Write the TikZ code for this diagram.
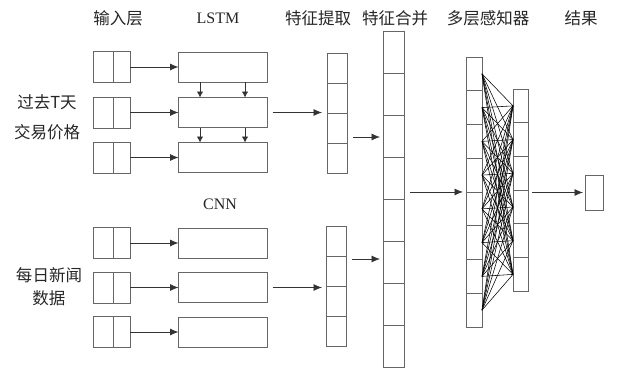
\documentclass[tikz,border=0pt]{standalone}
\usepackage{fontspec}
\setmainfont{Liberation Serif}
\newfontfamily\cjk{Noto Sans CJK SC}
\usetikzlibrary{arrows.meta}
\begin{document}
\begin{tikzpicture}[x=1pt,y=-1pt,
  every node/.style={inner sep=0pt,outer sep=0pt},
  title/.style={font=\cjk\fontsize{16.5}{20}\selectfont,text=black!85},
  latin/.style={font=\fontsize{16}{20}\selectfont,text=black!85},
  inbox/.style={draw=black!60,line width=0.8pt,minimum width=37pt,minimum height=31pt},
  rowbox/.style={draw=black!60,line width=0.8pt,minimum width=89pt,minimum height=30pt},
  fcell/.style={draw=black!60,line width=0.8pt,minimum width=20pt,minimum height=30pt},
  mcell/.style={draw=black!60,line width=0.8pt,minimum width=21pt,minimum height=42pt},
  hcell/.style={draw=black!60,line width=0.8pt,minimum width=16pt,minimum height=33.75pt},
  ocell/.style={draw=black!60,line width=0.8pt,minimum width=15pt,minimum height=33.7pt},
  arr/.style={-{Latex[length=8.5pt,width=7pt]},line width=0.8pt,black!80}]
\useasboundingbox (0,0) rectangle (620,367);
\node[title] (tin) at (118,18) {输入层};
\node[latin] (tlstm) at (218,18) {LSTM};
\node[title] (tfe) at (318,18) {特征提取};
\node[title] (tmg) at (395,18) {特征合并};
\node[title] (tmlp) at (488,18) {多层感知器};
\node[title] (tres) at (581,18) {结果};
\node[latin] (tcnn) at (220,204) {CNN};
\node[title,align=center,font=\cjk\fontsize{16.5}{30}\selectfont] (lprice) at (47,117) {过去T天\\交易价格};
\node[title,align=center,font=\cjk\fontsize{16.5}{23}\selectfont] (lnews) at (49,286.5) {每日新闻\\数据};
\foreach \n/\y in {l1/67,l2/112.5,l3/157.5,c1/243,c2/287.5,c3/332}{
  \node[inbox] (i\n) at (111.5,\y) {};
  \draw[black!60,line width=0.8pt] ([xshift=1.5pt]i\n.north) -- ([xshift=1.5pt]i\n.south);
  \node[rowbox] (\n) at (223,\y) {};
  \draw[arr] (i\n) -- (\n);
}
\foreach \i/\j in {1/2,2/3}
  \foreach \dx in {-23,22}
    \draw[-{Latex[length=6pt,width=6.5pt]},line width=0.8pt,black!80] ([xshift=\dx pt]l\i.south) -- ([xshift=\dx pt]l\j.north);
\foreach \i in {1,...,4}{
  \node[fcell] (fa\i) at (337,38+30*\i) {};
  \node[fcell] (fb\i) at (336,211+30*\i) {};
}
\foreach \i in {1,...,8}
  \node[mcell] (m\i) at (393.5,10+42*\i) {};
\foreach \i in {1,...,8}
  \node[hcell] (h\i) at (474,40.1+33.75*\i) {};
\foreach \i in {1,...,6}
  \node[ocell] (o\i) at (520.5,72.2+33.7*\i) {};
\foreach \i in {1,...,8}
  \foreach \j in {1,...,6}
    \draw[black,line width=0.55pt] (h\i.east) -- (o\j.west);
\node[draw=black!60,line width=0.8pt,minimum width=18pt,minimum height=35pt] (res) at (594,192.5) {};
\draw[arr,shorten <=5pt,shorten >=5pt] (l2) -- (l2 -| fa1.west);
\draw[arr,shorten <=5pt,shorten >=4pt] (c2) -- (c2 -| fb1.west);
\coordinate (ja) at ([xshift=6pt,yshift=6pt]fa3.south east);
\coordinate (jb) at ([xshift=6pt,yshift=-3pt]fb1.south east);
\draw[arr,shorten >=3pt] (ja) -- (ja -| m1.west);
\draw[arr,shorten >=3pt] (jb) -- (jb -| m1.west);
\draw[arr,shorten <=6pt,shorten >=3pt] (h4.south west -| m4.east) -- (h4.south west);
\draw[arr,shorten <=4pt,shorten >=2pt] (res.west -| o1.east) -- (res.west);
\end{tikzpicture}
\end{document}
